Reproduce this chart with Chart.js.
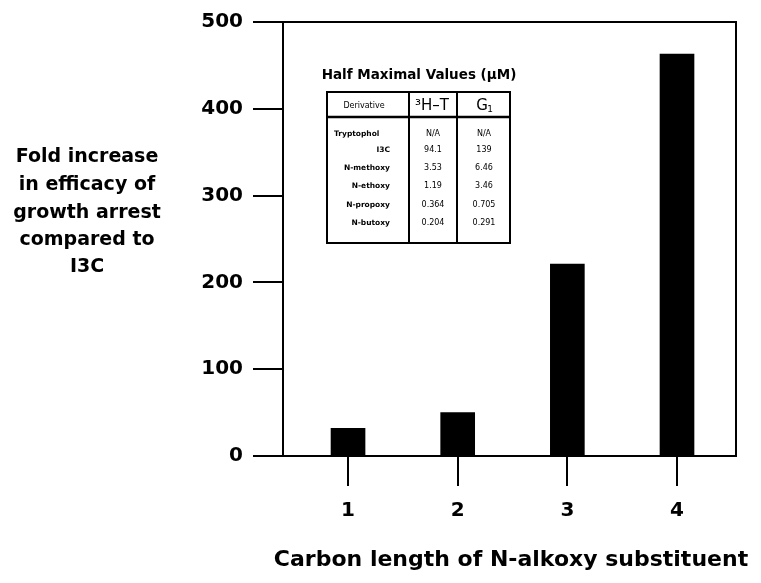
<!DOCTYPE html>
<html>
<head>
<meta charset="utf-8">
<script src="https://cdn.jsdelivr.net/npm/chart.js@4/dist/chart.umd.min.js"></script>
<style>
  html, body { margin: 0; padding: 0; background: #fff; }
  #wrap { width: 761px; height: 583px; }
</style>
</head>
<body>
<div id="wrap"><canvas id="chart" width="761" height="583"></canvas></div>
<script>
const carbonLength = [1, 2, 3, 4];
const foldIncrease = [32, 50, 221, 463];
const yLabelLines = ["Fold increase", "in efficacy of", "growth arrest", "compared to", "I3C"];
const xTitle = "Carbon length of N-alkoxy substituent";

const tableTitle = "Half Maximal Values (\u00B5M)";
const derivatives = ["Tryptophol", "I3C", "N-methoxy", "N-ethoxy", "N-propoxy", "N-butoxy"];
const halfMaxHT = ["N/A", "94.1", "3.53", "1.19", "0.364", "0.204"];
const halfMaxG1 = ["N/A", "139", "6.46", "3.46", "0.705", "0.291"];

const FONT = "'DejaVu Sans', Verdana, sans-serif";

// box on top/right, axis titles, inset table
const extras = {
  id: "extras",
  afterDraw(chart) {
    const ctx = chart.ctx;
    const a = chart.chartArea;
    ctx.save();
    ctx.strokeStyle = "#000";
    ctx.lineWidth = 2;
    ctx.beginPath();
    ctx.moveTo(a.left, a.top);
    ctx.lineTo(a.right, a.top);
    ctx.lineTo(a.right, a.bottom);
    ctx.stroke();

    // y axis title, horizontal
    ctx.fillStyle = "#000";
    ctx.font = "bold 19px " + FONT;
    ctx.textAlign = "center";
    ctx.textBaseline = "middle";
    const ys = [157, 185, 213, 240, 267];
    yLabelLines.forEach((t, i) => ctx.fillText(t, 87, ys[i]));

    // x axis title (drawn here so it is not squeezed to the chart width)
    ctx.font = "bold 22px " + FONT;
    ctx.fillText(xTitle, 511, 560);

    // inset table
    ctx.font = "bold 13.5px " + FONT;
    ctx.textBaseline = "alphabetic";
    ctx.fillText(tableTitle, 419, 79);

    const L = 327, R = 510, T = 92, B = 243, c1 = 409, c2 = 457, hb = 117;
    ctx.lineWidth = 2;
    ctx.strokeRect(L, T, R - L, B - T);
    ctx.beginPath();
    ctx.moveTo(c1, T); ctx.lineTo(c1, B);
    ctx.moveTo(c2, T); ctx.lineTo(c2, B);
    ctx.stroke();
    ctx.lineWidth = 2.5;
    ctx.beginPath();
    ctx.moveTo(L, hb); ctx.lineTo(R, hb);
    ctx.stroke();

    ctx.textBaseline = "middle";
    ctx.font = "8px " + FONT;
    ctx.fillText("Derivative", 364, 106);
    ctx.font = "15px " + FONT;
    ctx.fillText("\u00B3H\u2013T", 432, 106);
    ctx.fillText("G", 482, 106);
    ctx.font = "9px " + FONT;
    ctx.fillText("1", 490, 110);

    const rowY = [134, 150, 168, 186, 205, 223];
    derivatives.forEach((d, i) => {
      ctx.font = "bold 7.5px " + FONT;
      ctx.textAlign = i === 0 ? "left" : "right";
      ctx.fillText(d, i === 0 ? 334 : 390, rowY[i]);
      ctx.font = "8px " + FONT;
      ctx.textAlign = "center";
      ctx.fillText(halfMaxHT[i], 433, rowY[i]);
      ctx.fillText(halfMaxG1[i], 484, rowY[i]);
    });
    ctx.restore();
  }
};

new Chart(document.getElementById("chart"), {
  type: "bar",
  data: {
    datasets: [{
      data: carbonLength.map((c, i) => ({ x: c, y: foldIncrease[i] })),
      backgroundColor: "#000",
      borderWidth: 0,
      barThickness: 34
    }]
  },
  options: {
    responsive: false,
    animation: false,
    layout: { padding: { left: 200, right: 25, top: 18, bottom: 0 } },
    plugins: { legend: { display: false }, tooltip: { enabled: false } },
    scales: {
      x: {
        type: "linear",
        min: 0.407,
        max: 4.538,
        offset: false,
        afterFit: s => { s.height = 127; },
        ticks: {
          stepSize: 1,
          includeBounds: false,
          padding: 13,
          color: "#000",
          font: { family: FONT, size: 20, weight: "bold" }
        },
        grid: { drawOnChartArea: false, offset: false, tickLength: 30, color: "#000", lineWidth: 2 },
        border: { color: "#000", width: 2 }
      },
      y: {
        min: 0,
        max: 500,
        afterFit: s => { s.width = 83; },
        ticks: {
          stepSize: 100,
          padding: 10,
          color: "#000",
          font: { family: FONT, size: 20, weight: "bold" }
        },
        grid: { drawOnChartArea: false, tickLength: 30, color: "#000", lineWidth: 2 },
        border: { color: "#000", width: 2 }
      }
    }
  },
  plugins: [extras]
});
</script>
</body>
</html>
